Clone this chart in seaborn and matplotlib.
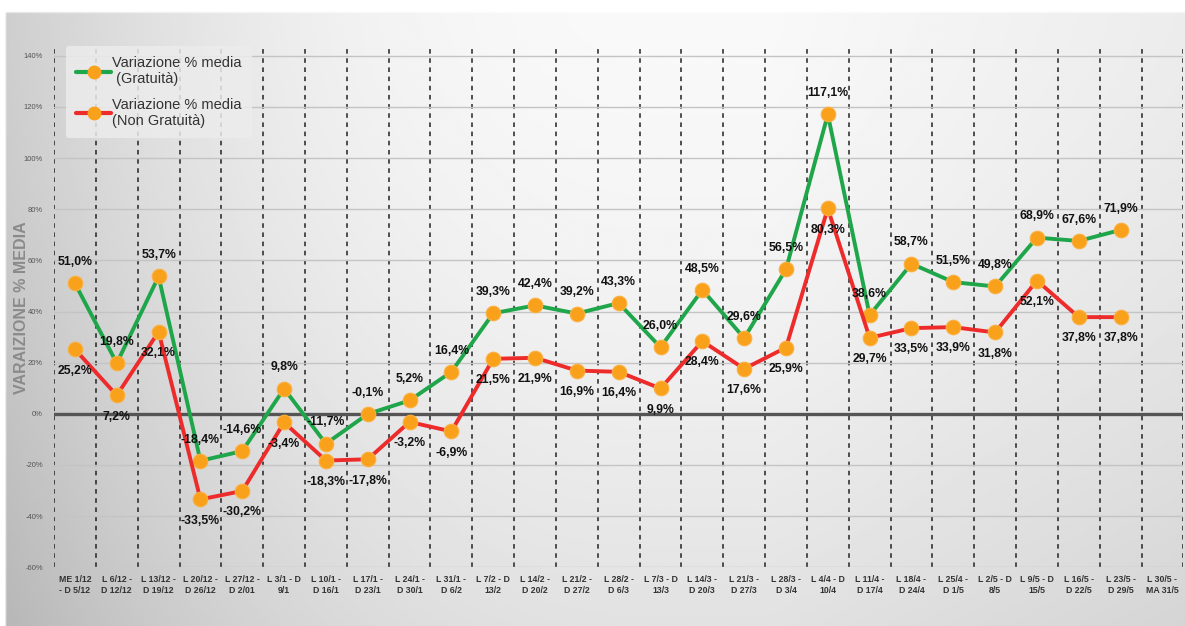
import numpy as np
import pandas as pd
import seaborn as sns
import matplotlib.pyplot as plt
from matplotlib.ticker import FixedLocator, FuncFormatter
from matplotlib.lines import Line2D

# Settimane (categorie asse x)
settimane = [
    "ME 1/12\n- D 5/12", "L 6/12 -\nD 12/12", "L 13/12 -\nD 19/12", "L 20/12 -\nD 26/12",
    "L 27/12 -\nD 2/01", "L 3/1 - D\n9/1", "L 10/1 -\nD 16/1", "L 17/1 -\nD 23/1",
    "L 24/1 -\nD 30/1", "L 31/1 -\nD 6/2", "L 7/2 - D\n13/2", "L 14/2 -\nD 20/2",
    "L 21/2 -\nD 27/2", "L 28/2 -\nD 6/3", "L 7/3 - D\n13/3", "L 14/3 -\nD 20/3",
    "L 21/3 -\nD 27/3", "L 28/3 -\nD 3/4", "L 4/4 - D\n10/4", "L 11/4 -\nD 17/4",
    "L 18/4 -\nD 24/4", "L 25/4 -\nD 1/5", "L 2/5 - D\n8/5", "L 9/5 - D\n15/5",
    "L 16/5 -\nD 22/5", "L 23/5 -\nD 29/5", "L 30/5 -\nMA 31/5",
]

# Variazione % media
gratuita = [51.0, 19.8, 53.7, -18.4, -14.6, 9.8, -11.7, -0.1, 5.2, 16.4, 39.3, 42.4, 39.2,
            43.3, 26.0, 48.5, 29.6, 56.5, 117.1, 38.6, 58.7, 51.5, 49.8, 68.9, 67.6, 71.9]
non_gratuita = [25.2, 7.2, 32.1, -33.5, -30.2, -3.4, -18.3, -17.8, -3.2, -6.9, 21.5, 21.9, 16.9,
                16.4, 9.9, 28.4, 17.6, 25.9, 80.3, 29.7, 33.5, 33.9, 31.8, 52.1, 37.8, 37.8]

serie = ["Variazione % media\n (Gratuità)", "Variazione % media\n(Non Gratuità)"]

df = pd.concat([
    pd.DataFrame({"pos": range(len(gratuita)), "valore": gratuita, "serie": serie[0]}),
    pd.DataFrame({"pos": range(len(non_gratuita)), "valore": non_gratuita, "serie": serie[1]}),
])

verde = "#1fa64a"
rosso = "#ee2b2b"
arancio = "#f9a11b"

sns.set_style("white")
plt.rcParams["font.family"] = ["Liberation Sans", "DejaVu Sans"]

fig = plt.figure(figsize=(11.85, 6.26), dpi=100)

# sfondo sfumato
bg = fig.add_axes([0, 0, 1, 1], zorder=-10)
gx, gy = np.meshgrid(np.linspace(0, 1, 400), np.linspace(1, 0, 200))
v = 0.975 - 0.17 * np.clip((0.55 - gx) / 0.55, 0, 1) ** 2.2 - 0.05 * np.clip((gx - 0.65) / 0.35, 0, 1) \
    - 0.09 * (1 - gy) ** 1.6
v[gy > 0.982] = 1.0
v[:, :2] = 1.0
bg.imshow(v, cmap="gray", vmin=0, vmax=1, aspect="auto", extent=[0, 1, 0, 1])
bg.axis("off")

ax = fig.add_axes([0.0456, 0.094, 0.953, 0.829])
ax.set_facecolor("none")

sns.lineplot(data=df, x="pos", y="valore", hue="serie", palette=[verde, rosso],
             linewidth=2.8, marker="o", markersize=10.5, markerfacecolor=arancio,
             markeredgecolor="#fbb040", markeredgewidth=0.8, ax=ax, legend=False, zorder=5)

ax.set_xlim(-0.5, len(settimane) - 0.5)
ax.set_ylim(-60, 143)

# griglia
ax.xaxis.set_major_locator(FixedLocator(range(len(settimane))))
ax.set_xticklabels(settimane)
ax.xaxis.set_minor_locator(FixedLocator(np.arange(-0.5, len(settimane), 1)))
ax.set_yticks(np.arange(-60, 141, 20))
ax.yaxis.set_major_formatter(FuncFormatter(lambda y, _: f"{int(y)}%"))
ax.grid(which="major", axis="y", color="#c4c4c4", linewidth=1)
ax.grid(which="minor", axis="x", color="#222222", linestyle=(0, (3, 3)), linewidth=1.1)
ax.axhline(0, color="#555555", linewidth=2.4, zorder=3)
ax.tick_params(axis="x", which="both", length=0, labelsize=6.3, labelcolor="#333333", pad=6)
ax.tick_params(axis="y", length=0, labelsize=5.5, labelcolor="#555555", pad=8)
for lab in ax.get_xticklabels():
    lab.set_fontweight("bold")
for s in ax.spines.values():
    s.set_visible(False)

ax.set_xlabel("")
ax.set_ylabel("VARAIZIONE % MEDIA", fontsize=11.5, fontweight="bold", color="#8a8a8a")
ax.yaxis.set_label_coords(-0.022, 0.5)

# etichette dei valori
for i, val in enumerate(gratuita):
    ax.annotate(f"{val:.1f}%".replace(".", ","), (i, val), xytext=(0, 11), textcoords="offset points",
                ha="center", va="bottom", fontsize=8.8, fontweight="bold", color="#111111", zorder=6)
for i, val in enumerate(non_gratuita):
    ax.annotate(f"{val:.1f}%".replace(".", ","), (i, val), xytext=(0, -11), textcoords="offset points",
                ha="center", va="top", fontsize=8.8, fontweight="bold", color="#111111", zorder=6)

handles = [
    Line2D([], [], color=verde, lw=3, marker="o", markersize=9, markerfacecolor=arancio, markeredgecolor=arancio),
    Line2D([], [], color=rosso, lw=3, marker="o", markersize=9, markerfacecolor=arancio, markeredgecolor=arancio),
]
leg = ax.legend(handles, serie, loc="upper left", bbox_to_anchor=(0.008, 1.01), fontsize=10.5,
                frameon=True, facecolor="#ececec", edgecolor="none", framealpha=0.85,
                handlelength=2.4, handletextpad=0.05, labelspacing=0.8, borderpad=0.7,
                borderaxespad=0.2)
for t in leg.get_texts():
    t.set_color("#333333")

fig.savefig("out.png", dpi=100)
